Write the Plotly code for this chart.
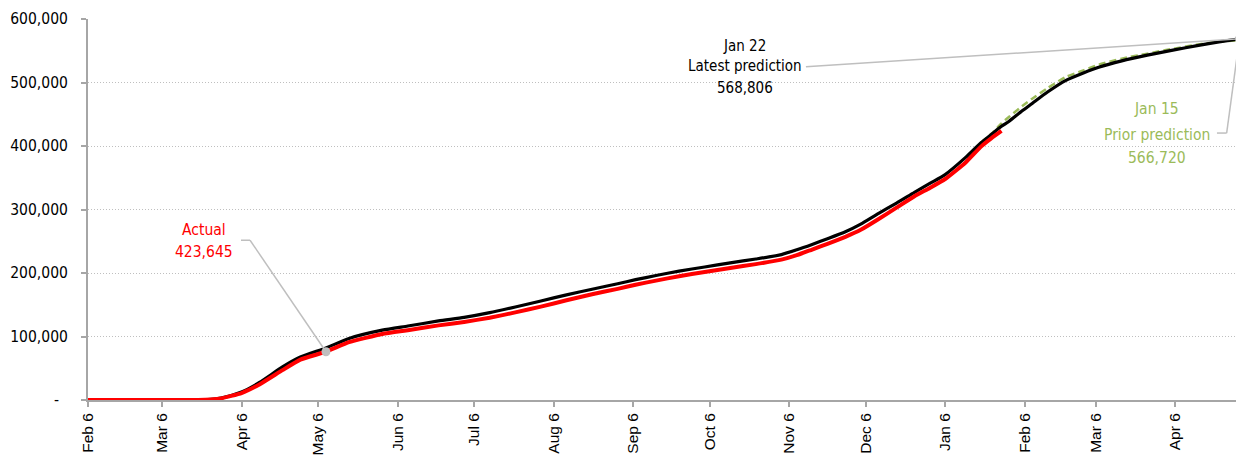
import plotly.graph_objects as go

# ---------------- data ----------------
actual_dates = [
    "2020-02-06", "2020-03-20", "2020-03-25", "2020-03-29", "2020-04-06", "2020-04-13",
    "2020-04-22", "2020-04-29", "2020-05-09", "2020-05-18", "2020-05-31", "2020-06-10",
    "2020-06-22", "2020-07-02", "2020-07-12", "2020-07-22", "2020-08-01", "2020-08-11",
    "2020-08-21", "2020-08-31", "2020-09-07", "2020-09-15", "2020-09-24", "2020-10-04",
    "2020-10-14", "2020-10-24", "2020-11-03", "2020-11-09", "2020-11-15", "2020-11-21",
    "2020-11-28", "2020-12-04", "2020-12-11", "2020-12-18", "2020-12-25", "2020-12-31",
    "2021-01-06", "2021-01-14", "2021-01-20", "2021-01-24", "2021-01-28",
]
actual_values = [
    0, 0, 800, 2600, 11000, 24500,
    47000, 63500, 76000, 91000, 104000, 110000,
    117500, 123000, 129500, 138000, 147000, 157000,
    166500, 175000, 181500, 188000, 195000, 201500,
    208000, 214000, 221000, 228000, 237000, 246000,
    257000, 268000, 285000, 303000, 321000, 334000,
    348000, 374000, 399000, 412000, 423645,
]

latest_dates = actual_dates + [
    "2021-01-31", "2021-02-05", "2021-02-09", "2021-02-15", "2021-02-22", "2021-03-01",
    "2021-03-07", "2021-03-16", "2021-03-26", "2021-04-05", "2021-04-15", "2021-04-23",
    "2021-05-01",
]
latest_values = [
    0, 0, 1000, 3000, 12500, 27600,
    52000, 67600, 82000, 97000, 110000, 116500,
    124500, 130000, 137500, 146500, 156000, 165500,
    174500, 183000, 189500, 196000, 203000, 209500,
    216000, 222000, 229000, 236500, 245000, 254000,
    265000, 277000, 294000, 310000, 327000, 341000,
    355000, 382000, 405000, 418000, 431000,
    439000, 455000, 467000, 485000, 503000, 515000,
    524000, 534000, 543000, 551000, 558500, 564000,
    568806,
]

prior_dates = [
    "2021-01-20", "2021-01-24", "2021-01-28", "2021-01-31", "2021-02-05", "2021-02-09",
    "2021-02-15", "2021-02-22", "2021-03-01", "2021-03-07", "2021-03-16", "2021-03-26",
    "2021-04-05", "2021-04-15", "2021-04-23", "2021-05-01",
]
prior_values = [
    405000, 419000, 435500, 446000, 462500, 474500,
    491000, 508500, 519000, 528000, 537500, 545500,
    553000, 560000, 564300, 566720,
]

tick_dates = [
    "2020-02-06", "2020-03-06", "2020-04-06", "2020-05-06", "2020-06-06", "2020-07-06",
    "2020-08-06", "2020-09-06", "2020-10-06", "2020-11-06", "2020-12-06", "2021-01-06",
    "2021-02-06", "2021-03-06", "2021-04-06",
]
tick_labels = [
    "Feb 6", "Mar 6", "Apr 6", "May 6", "Jun 6", "Jul 6", "Aug 6", "Sep 6", "Oct 6",
    "Nov 6", "Dec 6", "Jan 6", "Feb 6", "Mar 6", "Apr 6",
]
y_ticks = [0, 100000, 200000, 300000, 400000, 500000, 600000]
y_labels = ["-\u00a0\u00a0", "100,000", "200,000", "300,000", "400,000", "500,000", "600,000"]

# ---------------- style ----------------
RED = "#FF0000"
GREEN = "#9BBB59"
GRAY = "#BFBFBF"
AXIS = "#A6A6A6"
NARROW = "DejaVu Sans Condensed, Liberation Sans Narrow, sans-serif"
REG = "Liberation Sans, Arial, sans-serif"

fig = go.Figure()
fig.add_trace(go.Scatter(x=prior_dates, y=prior_values, mode="lines",
                         line=dict(color=GREEN, width=2.5, dash="7px,4px", shape="spline",
                                   smoothing=0.6),
                         hoverinfo="skip"))
fig.add_trace(go.Scatter(x=latest_dates, y=latest_values, mode="lines",
                         line=dict(color="#000000", width=3.2, shape="spline", smoothing=0.6),
                         hoverinfo="skip"))
fig.add_trace(go.Scatter(x=actual_dates, y=actual_values, mode="lines",
                         line=dict(color=RED, width=4, shape="spline", smoothing=0.4),
                         hoverinfo="skip"))

# callout anchor points
act_i = actual_dates.index("2020-05-09")
act_pt = (actual_dates[act_i], actual_values[act_i])
end_pt = (latest_dates[-1], latest_values[-1])

fig.add_trace(go.Scatter(x=[act_pt[0], end_pt[0]], y=[act_pt[1], end_pt[1]], mode="markers",
                         marker=dict(color=GRAY, size=9), hoverinfo="skip"))

def seg(x0, y0, x1, y1):
    fig.add_shape(type="line", xref="x", yref="y", x0=x0, y0=y0, x1=x1, y1=y1,
                  line=dict(color=GRAY, width=1.5), layer="above")

# Actual leader
seg(act_pt[0], act_pt[1], "2020-04-09 08:00", 251600)
seg("2020-04-09 08:00", 251600, "2020-04-05 19:00", 251600)
# Latest prediction leader
seg("2020-11-12 14:00", 525000, end_pt[0], end_pt[1])
# Prior prediction leader
seg(end_pt[0], end_pt[1], "2021-04-26", 420400)
seg("2021-04-26", 420400, "2021-04-22 05:00", 420400)

def label(x, ys, lines, size, color):
    for y, t in zip(ys, lines):
        fig.add_annotation(xref="paper", yref="paper", x=x, y=y, showarrow=False,
                           text=t, xanchor="center", yanchor="middle",
                           font=dict(family=NARROW, size=size, color=color))

label(0.1005, [0.4465, 0.389], ["Actual", "423,645"], 15.5, RED)
label(0.5693, [0.928, 0.876, 0.818], ["Jan 22", "Latest prediction", "568,806"], 15, "#000000")
label(0.9263, [0.763, 0.695, 0.6345], ["Jan 15", "Prior prediction", "566,720"], 15.5, GREEN)

# the page body adds an 8px margin, so the figure is sized to fit the window
fig.update_layout(
    width=1236, height=449,
    margin=dict(l=80, r=2, t=9, b=49),
    paper_bgcolor="white", plot_bgcolor="white",
    showlegend=False,
    xaxis=dict(
        type="date", range=["2020-02-06", "2021-05-02"],
        tickmode="array", tickvals=tick_dates, ticktext=tick_labels,
        tickangle=-90, tickfont=dict(family=REG, size=15.5, color="#000000"),
        ticks="outside", ticklen=5, tickwidth=1.5, tickcolor=AXIS,
        showline=True, linecolor=AXIS, linewidth=2, showgrid=False, zeroline=False,
    ),
    yaxis=dict(
        range=[0, 600000], tickmode="array", tickvals=y_ticks, ticktext=y_labels,
        tickfont=dict(family=NARROW, size=15.5, color="#000000"),
        ticks="outside", ticklen=5, tickwidth=1.5, tickcolor=AXIS, ticklabelstandoff=10,
        showline=True, linecolor=AXIS, linewidth=2,
        showgrid=True, gridcolor=GRAY, griddash="1px,2px", gridwidth=1, zeroline=False,
    ),
)

fig.write_html("out.html")
